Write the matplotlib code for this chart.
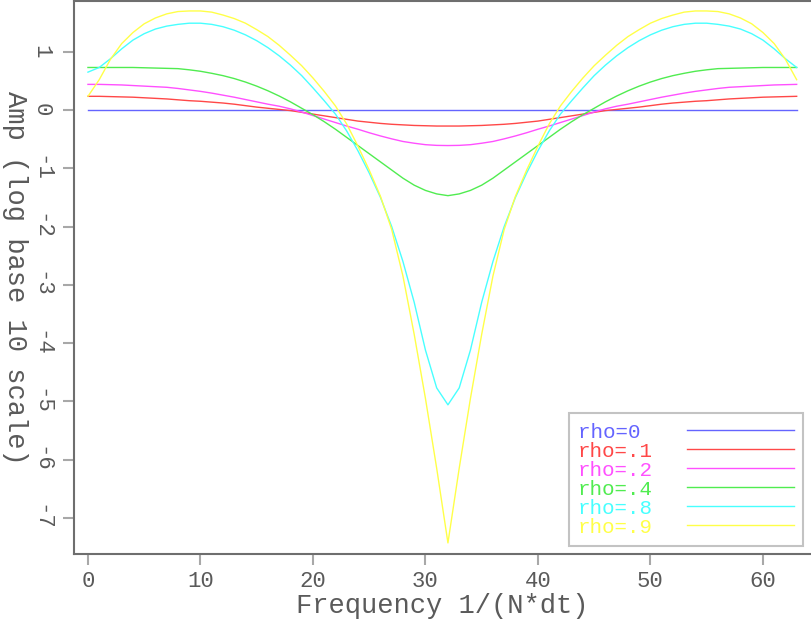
import matplotlib
matplotlib.use("Agg")
import matplotlib.pyplot as plt

# ---------- data ----------
freq = list(range(64))

# trailing space keeps the monospaced legend column left aligned
rho_labels = ["rho=0 ", "rho=.1", "rho=.2", "rho=.4", "rho=.8", "rho=.9"]
colors = ["#6464ff", "#ff4848", "#ff50ff", "#50ec50", "#48ffff", "#ffff48"]

amp_rho0 = [0.0] * 64

amp_rho1 = [0.235, 0.235, 0.23, 0.225, 0.22, 0.21, 0.20, 0.19, 0.175, 0.16, 0.15,
            0.135, 0.12, 0.10, 0.075, 0.05, 0.03, 0.01, -0.01, -0.04, -0.07, -0.10,
            -0.13, -0.16, -0.19, -0.21, -0.23, -0.245, -0.255, -0.265, -0.27, -0.275,
            -0.275, -0.275, -0.27, -0.265, -0.255, -0.245, -0.23, -0.21, -0.19, -0.16,
            -0.13, -0.10, -0.07, -0.04, -0.01, 0.01, 0.03, 0.05, 0.075, 0.10, 0.12,
            0.135, 0.15, 0.16, 0.175, 0.19, 0.20, 0.21, 0.22, 0.225, 0.23, 0.235]

amp_rho2 = [0.44, 0.44, 0.435, 0.43, 0.42, 0.41, 0.40, 0.39, 0.37, 0.345, 0.32,
            0.29, 0.255, 0.22, 0.18, 0.14, 0.10, 0.065, 0.02, -0.035, -0.095, -0.155,
            -0.215, -0.275, -0.33, -0.39, -0.445, -0.495, -0.54, -0.57, -0.595, -0.607,
            -0.61, -0.607, -0.595, -0.57, -0.54, -0.495, -0.445, -0.39, -0.33, -0.275,
            -0.215, -0.155, -0.095, -0.035, 0.02, 0.065, 0.10, 0.14, 0.18, 0.22, 0.255,
            0.29, 0.32, 0.345, 0.37, 0.39, 0.40, 0.41, 0.42, 0.43, 0.435, 0.44]

amp_rho4 = [0.73, 0.73, 0.73, 0.73, 0.73, 0.725, 0.72, 0.715, 0.71, 0.69, 0.665,
            0.63, 0.59, 0.54, 0.48, 0.41, 0.33, 0.24, 0.14, 0.03, -0.08, -0.20,
            -0.33, -0.47, -0.61, -0.75, -0.89, -1.03, -1.17, -1.29, -1.38, -1.44,
            -1.47, -1.44, -1.38, -1.29, -1.17, -1.03, -0.89, -0.75, -0.61, -0.47,
            -0.33, -0.20, -0.08, 0.03, 0.14, 0.24, 0.33, 0.41, 0.48, 0.54, 0.59,
            0.63, 0.665, 0.69, 0.71, 0.715, 0.72, 0.725, 0.73, 0.73, 0.73, 0.73]

amp_rho8 = [0.65, 0.73, 0.88, 1.05, 1.20, 1.31, 1.39, 1.44, 1.47, 1.49, 1.49,
            1.47, 1.43, 1.37, 1.29, 1.19, 1.07, 0.93, 0.77, 0.59, 0.38, 0.16,
            -0.07, -0.36, -0.70, -1.08, -1.50, -2.00, -2.60, -3.30, -4.12, -4.77,
            -5.06, -4.77, -4.12, -3.30, -2.60, -2.00, -1.50, -1.08, -0.70, -0.36,
            -0.07, 0.16, 0.38, 0.59, 0.77, 0.93, 1.07, 1.19, 1.29, 1.37, 1.43,
            1.47, 1.49, 1.49, 1.47, 1.44, 1.39, 1.31, 1.20, 1.05, 0.88, 0.73]

amp_rho9 = [0.235, 0.52, 0.87, 1.14, 1.33, 1.48, 1.58, 1.65, 1.69, 1.70, 1.70,
            1.68, 1.63, 1.57, 1.49, 1.38, 1.26, 1.11, 0.94, 0.76, 0.55, 0.32,
            0.07, -0.24, -0.62, -1.03, -1.48, -2.05, -2.85, -3.85, -4.95, -6.15,
            -7.43, -6.15, -4.95, -3.85, -2.85, -2.05, -1.48, -1.03, -0.62, -0.24,
            0.07, 0.32, 0.55, 0.76, 0.94, 1.11, 1.26, 1.38, 1.49, 1.57, 1.63,
            1.68, 1.70, 1.70, 1.69, 1.65, 1.58, 1.48, 1.33, 1.14, 0.87, 0.52]

series = [amp_rho0, amp_rho1, amp_rho2, amp_rho4, amp_rho8, amp_rho9]

xticks = [0, 10, 20, 30, 40, 50, 60]
yticks = [1, 0, -1, -2, -3, -4, -5, -6, -7]

# ---------- plot ----------
FONT = "Liberation Mono"
GREY = "#5a5a5a"

fig = plt.figure(figsize=(8.11, 6.24), dpi=100)
ax = fig.add_axes([0.0912, 0.1122, 0.9075, 0.8862])

for vals, col, lab in zip(series, colors, rho_labels):
    ax.plot(freq, vals, color=col, linewidth=1.0, label=lab)

ax.set_xlim(-1.244, 64.18)
ax.set_ylim(-7.62, 1.871)

ax.set_xticks(xticks)
ax.set_yticks(yticks)
ax.set_xticklabels([str(t) for t in xticks], family=FONT, fontsize=16, color=GREY)
ax.set_yticklabels([str(t) for t in yticks], family=FONT, fontsize=16, color=GREY,
                   rotation=-90, va="center", ha="center")
ax.tick_params(axis="both", direction="out", length=8, width=1.5, color="#a8a8a8")
ax.tick_params(axis="y", pad=16)
ax.tick_params(axis="x", pad=4)

for side in ["left", "bottom", "top"]:
    ax.spines[side].set_color("#6e6e6e")
    ax.spines[side].set_linewidth(1.5)
ax.spines["right"].set_visible(False)

ax.set_xlabel("Frequency 1/(N*dt)", family=FONT, fontsize=19.5, color=GREY, labelpad=1)
ax.set_ylabel("Amp (log base 10 scale)", family=FONT, fontsize=19.5, color=GREY,
              rotation=-90, labelpad=11, va="center")

leg = ax.legend(loc="lower right", bbox_to_anchor=(0.9905, 0.0145),
                markerfirst=False, frameon=True, fancybox=False,
                prop={"family": FONT, "size": 15}, handlelength=5.1,
                handletextpad=1.65, labelspacing=0.0, borderpad=0.45,
                borderaxespad=0.0)
leg.get_frame().set_edgecolor("#b4b4b4")
leg.get_frame().set_linewidth(1.5)
for txt, col in zip(leg.get_texts(), colors):
    txt.set_color(col)

fig.savefig("out.png", dpi=100)
